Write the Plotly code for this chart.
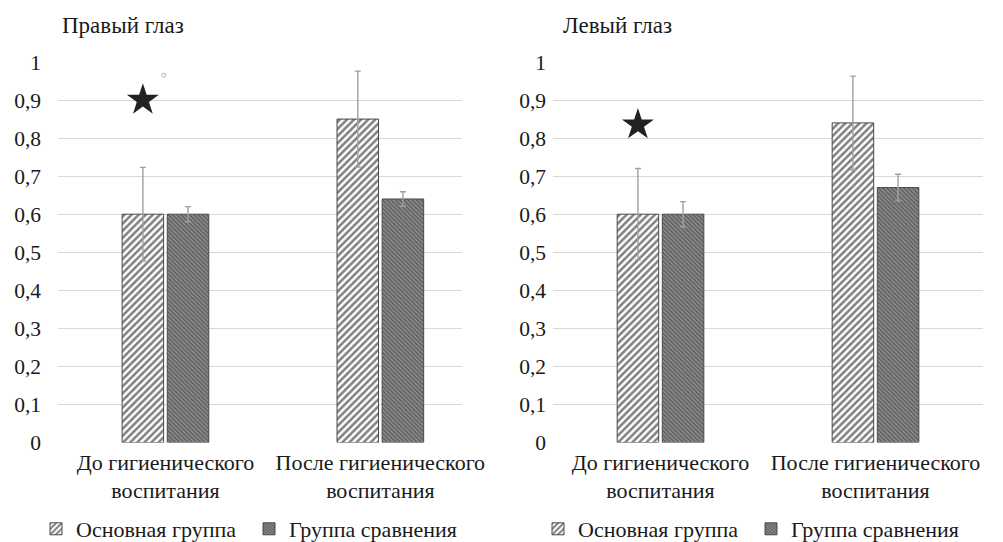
import plotly.graph_objects as go

categories = ["До гигиенического<br>воспитания", "После гигиенического<br>воспитания"]
series_names = ["Основная группа", "Группа сравнения"]

right_main = [0.60, 0.85]
right_main_err = [0.123, 0.126]
right_comp = [0.60, 0.64]
right_comp_err = [0.02, 0.019]

left_main = [0.60, 0.84]
left_main_err = [0.12, 0.123]
left_comp = [0.60, 0.67]
left_comp_err = [0.033, 0.035]

right_star = [0.90]
right_dot = [0.965]
left_star = [0.835]

panel_titles = ["Правый глаз", "Левый глаз"]
y_ticks = [0, 0.1, 0.2, 0.3, 0.4, 0.5, 0.6, 0.7, 0.8, 0.9, 1]
y_ticktext = ["0", "0,1", "0,2", "0,3", "0,4", "0,5", "0,6", "0,7", "0,8", "0,9", "1"]

FONT = "'Liberation Serif', 'Times New Roman', 'DejaVu Serif', serif"
TXT = "#1a1a1a"
W, H = 1003, 542

fig = go.Figure()
xpos = [0, 1]

def add_panel(xa, ya, main, main_err, comp, comp_err, legend):
    fig.add_trace(go.Bar(
        x=xpos, y=main, name=series_names[0], xaxis=xa, yaxis=ya, legend=legend,
        marker=dict(color="white", line=dict(color="#4a4a4a", width=1),
                    pattern=dict(shape="/", size=5, solidity=0.5, fgcolor="#000000", bgcolor="white")),
        error_y=dict(type="data", array=main_err, color="#a0a0a0", thickness=1.4, width=3),
    ))
    fig.add_trace(go.Bar(
        x=xpos, y=comp, name=series_names[1], xaxis=xa, yaxis=ya, legend=legend,
        marker=dict(color="white", line=dict(color="#4a4a4a", width=1),
                    pattern=dict(shape="\\", size=3, solidity=0.5, fgcolor="#2a2a2a", bgcolor="#8f8f8f")),
        error_y=dict(type="data", array=comp_err, color="#a0a0a0", thickness=1.4, width=3),
    ))

add_panel("x", "y", right_main, right_main_err, right_comp, right_comp_err, "legend")
add_panel("x2", "y2", left_main, left_main_err, left_comp, left_comp_err, "legend2")

fig.add_trace(go.Scatter(x=[-0.105], y=right_star, mode="markers", xaxis="x", yaxis="y",
                         marker=dict(symbol="star", size=24, color="#222222"), showlegend=False, hoverinfo="skip"))
fig.add_trace(go.Scatter(x=[-0.008], y=right_dot, mode="markers", xaxis="x", yaxis="y",
                         marker=dict(symbol="circle-open", size=4, color="#b0b0b0", line=dict(width=1)),
                         showlegend=False, hoverinfo="skip"))
fig.add_trace(go.Scatter(x=[-0.105], y=left_star, mode="markers", xaxis="x2", yaxis="y2",
                         marker=dict(symbol="star", size=24, color="#222222"), showlegend=False, hoverinfo="skip"))

ytop = 1 - 62 / H
ybot = 1 - 442.5 / H

common_x = dict(tickvals=xpos, ticktext=categories, showgrid=False, zeroline=False, showline=False,
                ticks="", ticklabelstandoff=4, tickfont=dict(family=FONT, size=22, color=TXT))
common_y = dict(range=[0, 1.0], tickvals=y_ticks, ticktext=y_ticktext, showgrid=True,
                gridcolor="#d9d9d9", gridwidth=1, zeroline=False, showline=False, ticks="",
                tickfont=dict(family=FONT, size=21.5, color=TXT))

legend_common = dict(orientation="h", xanchor="left", y=1 - 529 / H, yanchor="middle",
                     font=dict(family=FONT, size=22, color=TXT), itemwidth=30,
                     entrywidth=168, entrywidthmode="pixels", bgcolor="rgba(0,0,0,0)")

fig.update_layout(
    width=W, height=H,
    margin=dict(l=0, r=0, t=0, b=0, autoexpand=False),
    paper_bgcolor="white", plot_bgcolor="white",
    barmode="group", bargap=0.58, bargroupgap=0.08,
    font=dict(family=FONT, color=TXT),
    xaxis=dict(domain=[58 / W, 462 / W], range=[-0.5, 1.38], **common_x),
    yaxis=dict(domain=[ybot, ytop], ticklabelstandoff=16, **common_y),
    xaxis2=dict(domain=[553 / W, 983 / W], range=[-0.5, 1.5], anchor="y2", **common_x),
    yaxis2=dict(domain=[ybot, ytop], anchor="x2", ticklabelstandoff=6, **common_y),
    legend=dict(x=36 / W, **legend_common),
    legend2=dict(x=538 / W, **legend_common),
    annotations=[
        dict(text=panel_titles[0], x=60 / W, y=1 - 25 / H, xref="paper", yref="paper",
             xanchor="left", yanchor="middle", showarrow=False, font=dict(family=FONT, size=23, color=TXT)),
        dict(text=panel_titles[1], x=561 / W, y=1 - 25 / H, xref="paper", yref="paper",
             xanchor="left", yanchor="middle", showarrow=False, font=dict(family=FONT, size=23, color=TXT)),
    ],
)

fig.write_html("out.html", config={"displayModeBar": False},
               post_script="document.documentElement.style.overflow='hidden';"
                           "document.body.style.margin='0';document.body.style.overflow='hidden';")
